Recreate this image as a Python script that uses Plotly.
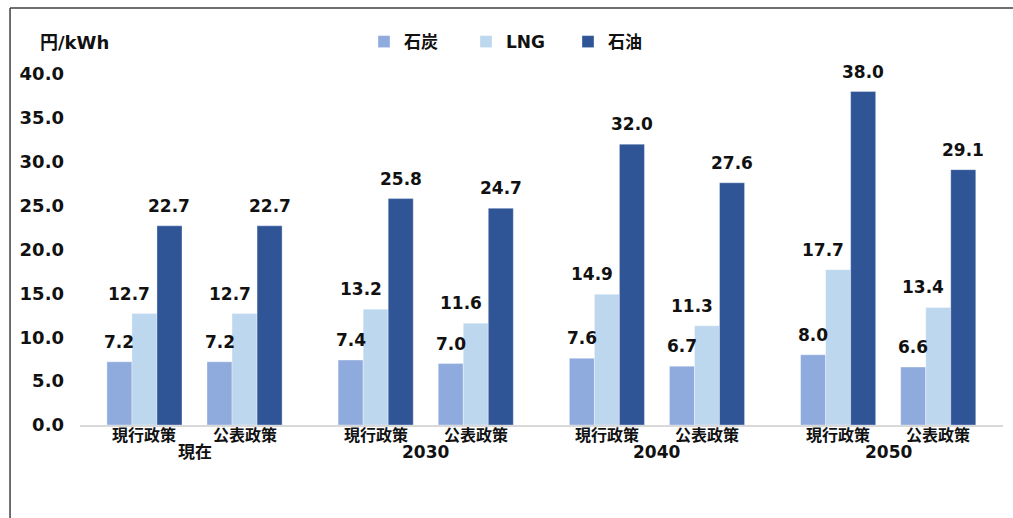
import plotly.graph_objects as go

# Generation cost by fuel (円/kWh), per year and policy scenario
years = ["現在", "2030", "2040", "2050"]
scenarios = ["現行政策", "公表政策"]
series_names = ["石炭", "LNG", "石油"]
coal = [7.2, 7.2, 7.4, 7.0, 7.6, 6.7, 8.0, 6.6]
lng = [12.7, 12.7, 13.2, 11.6, 14.9, 11.3, 17.7, 13.4]
oil = [22.7, 22.7, 25.8, 24.7, 32.0, 27.6, 38.0, 29.1]

colors = ["#8FAADC", "#BDD7EE", "#2F5597"]
FONT = "DejaVu Sans, Noto Sans CJK JP, sans-serif"
TXT = "#111111"

# cluster positions: two scenarios per year, extra gap between years
year_gap = 0.31
xpos, xtext = [], []
for gi, _ in enumerate(years):
    for si, s in enumerate(scenarios):
        xpos.append(gi * (len(scenarios) + year_gap) + si)
        xtext.append(s)

fig = go.Figure()
all_values = [coal, lng, oil]
for name, vals, col in zip(series_names, all_values, colors):
    fig.add_trace(go.Bar(
        x=xpos, y=vals, name=name,
        marker=dict(color=col, line=dict(color="rgba(255,255,255,0.45)", width=0.75)),
        hoverinfo="skip",
    ))

# value labels above each bar
bar_w = 0.25
label_xshift = [0, -15, 0]
for k, vals in enumerate(all_values):
    off = (k - 1) * bar_w
    for xp, v in zip(xpos, vals):
        fig.add_annotation(
            x=xp + off, y=v, xref="x", yref="y",
            text=f"{v:.1f}", showarrow=False,
            yanchor="bottom", yshift=8, xshift=label_xshift[k],
            font=dict(family=FONT, size=17, color=TXT, weight="bold"),
        )

# scenario labels just under the axis line
for xp, s in zip(xpos, xtext):
    fig.add_annotation(
        x=xp, y=-0.0285, xref="x", yref="paper",
        text=s, showarrow=False, yanchor="middle",
        font=dict(family=FONT, size=16, color=TXT, weight="bold"),
    )

# year labels under the scenario labels
for gi, yr in enumerate(years):
    cx = (xpos[2 * gi] + xpos[2 * gi + 1]) / 2
    fig.add_annotation(
        x=cx, y=-0.077, xref="x", yref="paper",
        text=yr, showarrow=False, yanchor="middle",
        font=dict(family=FONT, size=17, color=TXT, weight="bold"),
    )

# unit label
fig.add_annotation(
    x=-0.045, y=1.091, xref="paper", yref="paper",
    text="円/kWh", showarrow=False, xanchor="left", yanchor="middle",
    font=dict(family=FONT, size=18, color=TXT, weight="bold"),
)

# outer frame (top and left edges)
fig.add_shape(type="line", xref="paper", yref="paper",
              x0=-0.0758, x1=1.02, y0=1.188, y1=1.188,
              line=dict(color="#3f3f3f", width=1.5))
fig.add_shape(type="line", xref="paper", yref="paper",
              x0=-0.0758, x1=-0.0758, y0=1.188, y1=-0.3,
              line=dict(color="#3f3f3f", width=1.5))

fig.update_layout(
    width=1013, height=518,
    margin=dict(l=80, r=10, t=74, b=93),
    paper_bgcolor="white", plot_bgcolor="white",
    barmode="group", bargap=0.25, bargroupgap=0,
    font=dict(family=FONT, color=TXT),
    legend=dict(
        orientation="h", x=0.3077, xanchor="left", y=1.091, yanchor="middle",
        font=dict(family=FONT, size=17, color=TXT, weight="bold"),
        entrywidth=57, itemwidth=30, traceorder="normal",
        bgcolor="rgba(0,0,0,0)",
    ),
    xaxis=dict(
        range=[-0.644, 8.577],
        showticklabels=False,
        showgrid=False, zeroline=False, ticks="",
        showline=True, linecolor="#d9d9d9", linewidth=1.5,
    ),
    yaxis=dict(
        range=[0, 40], dtick=5, tickformat=".1f",
        showgrid=False, zeroline=False, showline=False, ticks="",
        ticklabelstandoff=15,
        tickfont=dict(family=FONT, size=18, color=TXT, weight="bold"),
    ),
)

fig.write_html("out.html")
